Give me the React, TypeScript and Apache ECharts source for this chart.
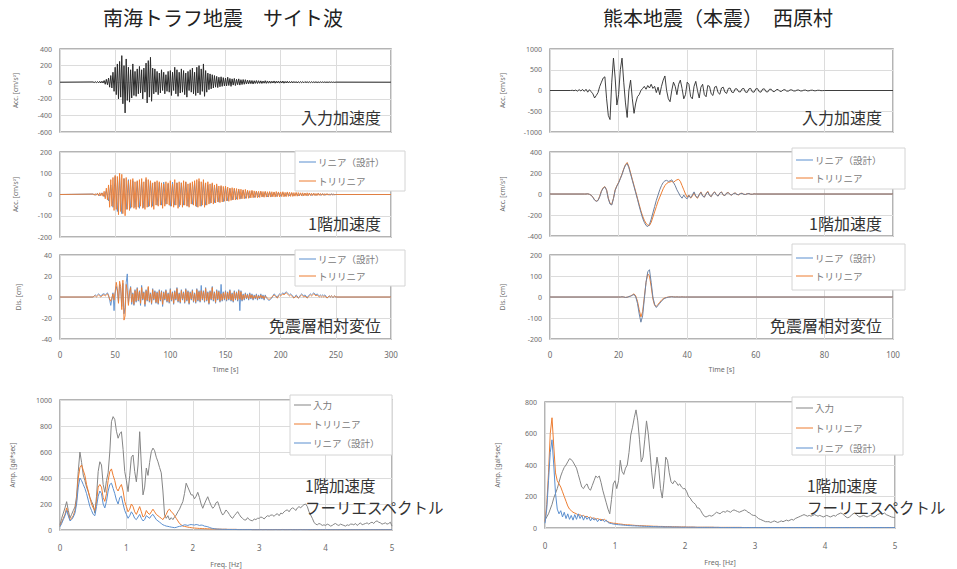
import React, { useEffect, useRef } from "react";
import * as echarts from "echarts";

// ---------------- Nankai Trough (site wave), time [s] ----------------
const NANKAI_T_END = 300;
const NANKAI_T0 = 30;
const NANKAI_DT = 1;
const NANKAI_INPUT = [
  3, -4, 6, -5, 8, -7, 10, -9, 12, -10,
  20, -25, 35, -30, 50, -60, 80, -70, 120, -110,
  180, -150, 220, -200, 250, -180, 320, -260, 200, -370,
  280, -220, 180, -240, 150, -190, 220, -160, 130, -170,
  160, -140, 190, -130, 150, -200, 170, -120, 230, -250,
  260, -180, 300, -230, 170, -140, 160, -120, 130, -150,
  110, -130, 150, -100, 120, -140, 90, -110, 130, -120,
  140, -160, 120, -100, 180, -140, 150, -170, 120, -130,
  160, -120, 140, -150, 110, -180, 130, -100, 150, -120,
  170, -140, 120, -160, 180, -130, 200, -150, 160, -110,
  220, -170, 140, -120, 110, -90, 100, -80, 90, -70,
  80, -60, 70, -65, 60, -55, 65, -50, 55, -45,
  50, -45, 60, -40, 45, -50, 40, -35, 45, -40,
  35, -30, 40, -35, 30, -28, 32, -25, 30, -22,
  25, -20, 22, -18, 20, -22, 18, -15, 20, -16,
  18, -14, 16, -15, 14, -12, 18, -14, 15, -12,
  14, -12, 12, -10, 15, -12, 12, -10, 14, -11,
  12, -10, 14, -12, 10, -9, 12, -10, 9, -8,
  10, -8, 9, -7, 8, -9, 7, -6, 8, -6,
  7, -6, 8, -5, 6, -5, 7, -5, 6, -4,
  5, -4, 6, -5, 4, -4, 5, -3, 4, -3,
  4, -3, 3, -3, 4, -2, 3, -2, 2, -2,
  1,
];
const NANKAI_F1_TRI = [
  2, -3, 4, -3, 5, -6, 8, -6, 7, -8,
  15, -20, 30, -25, 45, -60, 70, -55, 80, -75,
  90, -70, 85, -95, 100, -80, 95, -90, 75, -100,
  80, -70, 65, -75, 70, -60, 75, -65, 60, -70,
  65, -60, 70, -55, 75, -65, 60, -70, 80, -60,
  70, -55, 65, -60, 55, -70, 60, -50, 65, -55,
  60, -50, 55, -65, 50, -55, 60, -45, 55, -50,
  65, -55, 50, -60, 70, -50, 55, -65, 60, -50,
  55, -60, 65, -50, 60, -55, 50, -60, 55, -45,
  60, -50, 65, -55, 70, -60, 75, -55, 60, -50,
  70, -60, 55, -50, 60, -45, 50, -40, 55, -45,
  45, -40, 50, -35, 40, -38, 42, -35, 38, -32,
  40, -30, 35, -32, 30, -28, 32, -25, 30, -26,
  28, -24, 26, -22, 25, -20, 22, -20, 24, -18,
  20, -18, 18, -16, 20, -15, 17, -14, 16, -15,
  15, -14, 16, -12, 14, -13, 15, -12, 13, -12,
  14, -12, 13, -11, 12, -12, 14, -10, 12, -11,
  12, -10, 13, -11, 10, -10, 12, -9, 11, -9,
  10, -9, 9, -8, 10, -8, 9, -7, 8, -7,
  8, -7, 7, -6, 8, -6, 7, -5, 6, -5,
  6, -5, 5, -5, 6, -4, 5, -4, 4, -4,
  4, -3, 4, -3, 3, -3, 2, -2, 2, -1,
  0,
];
const NANKAI_F1_LIN_DT = 2;
const NANKAI_F1_LIN = [
  2, -3, 5, -6, 8, -10, 18, -30, 45, -60,
  85, -80, 80, -90, 75, -70, 70, -65, 65, -60,
  60, -65, 58, -62, 70, -58, 62, -55, 58, -50,
  55, -50, 58, -46, 50, -55, 58, -50, 55, -58,
  55, -50, 58, -55, 50, -46, 55, -58, 62, -55,
  58, -50, 46, -42, 50, -38, 42, -36, 38, -34,
  34, -30, 28, -26, 26, -22, 23, -20, 20, -18,
  17, -15, 16, -14, 14, -12, 13, -11, 12, -11,
  11, -10, 10, -9, 10, -8, 9, -8, 8, -7,
  7, -6, 6, -6, 6, -5, 5, -5, 5, -4,
  4, -4, 4, -3, 3, -3, 2, -2, 2, -1,
  0,
];
const NANKAI_DIS_TRI = [
  0, 1, 1, 0, 1, 2, 1, 0, 1, 2,
  2, 1, 2, 3, 1, -2, -4, -1, 3, -3,
  5, 14, 8, -6, 15, 10, -12, 16, -22, -18,
  12, 6, -8, 4, 9, -5, 3, -7, 6, -4,
  8, -3, 5, -6, 9, -2, 4, -7, 6, -3,
  10, -4, 3, -6, 7, -2, 5, -5, 4, -6,
  6, -3, 5, -7, 4, -2, 6, -4, 3, -5,
  7, -3, 4, -6, 5, -2, 8, -4, 3, -5,
  6, -2, 4, -5, 7, -3, 5, -6, 4, -2,
  6, -4, 3, -5, 7, -3, 5, -4, 6, -2,
  5, -4, 8, -3, 4, -6, 5, -2, 9, -3,
  4, -5, 6, -2, 5, -4, 3, -3, 4, -2,
  5, -3, 4, -2, 6, -3, 3, -4, 5, -2,
  4, -3, 6, -2, 5, -3, 2, -2, 3, -1,
  2, -2, 3, -1, 2, -2, 1, -1, 2, -2,
  1, -1, 2, -1, 1, -2, 1, 0, -1, -2,
  -2, -1, 0, 1, 2, 1, 0, -1, 1, 2,
  1, 2, 3, 2, 3, 4, 3, 2, 1, 2,
  1, 0, -1, 0, 1, 0, -1, 0, 1, 2,
  1, 0, 1, 0, -1, 0, 1, 2, 1, 2,
  3, 2, 1, 2, 1, 0, 1, 0, 1, 0,
  1, 0, -1, 0, 1, 0, 1, 0, 0, 1,
  0,
];
const NANKAI_DIS_LIN = [
  0, 1, 2, 1, 2, 3, 2, 1, 2, 3,
  3, 2, 3, 4, 2, -3, -8, -2, 4, -13,
  3, 10, 6, -5, 12, 8, -9, 13, -16, -10,
  14, 22, -6, 3, 10, -7, 4, -8, 7, -5,
  9, -4, 6, -8, 11, -3, 5, -9, 7, -4,
  9, -5, 4, -7, 8, -3, 6, -6, 5, -7,
  7, -4, 6, -9, 5, -3, 7, -5, 4, -6,
  8, -4, 5, -7, 6, -3, 9, -5, 4, -6,
  7, -3, 5, -6, 8, -4, 6, -7, 5, -3,
  7, -5, 4, -6, 8, -4, 6, -5, 11, -3,
  6, -5, 9, -4, 5, -7, 6, -3, 10, -4,
  5, -6, 7, -3, 6, -5, 12, -4, 5, -3,
  6, -4, 5, -3, 7, -4, 4, -5, 6, -3,
  5, -4, 7, -13, 6, -4, 3, -3, 4, -2,
  3, -3, 4, -2, 3, -3, 2, -2, 3, -3,
  2, -2, 3, -2, 2, -3, 2, -1, -2, -3,
  -3, -2, -1, 1, 3, 2, 1, -1, 2, 3,
  2, 3, 4, 3, 4, 5, 4, 3, 2, 3,
  2, 1, -1, 0, 2, 1, -1, 0, 2, 3,
  2, 1, 2, 1, -1, 1, 2, 3, 2, 3,
  4, 3, 2, 3, 2, 1, 2, 1, 2, 1,
  2, 1, -1, 0, 1, 0, 1, 0, 0, 1,
  0,
];

// ---------------- Kumamoto (main shock), Nishihara village ----------------
const KUMA_T_END = 100;
const KUMA_IN_T0 = 6;
const KUMA_DT = 0.5;
const KUMA_INPUT = [
  0, 5, -5, 10, -15, 20, -10, 25, -20, 30, -40, 20,
  -30, -80, -180, -120, -50, 100, 200, 300, 330, -200, -600, -700,
  200, 780, 300, -350, -100, 500, 780, 200, -300, -650, 0, 250,
  -200, -550, -300, -150, -100, 0, 50, 100, 30, 120, 60, 150,
  50, 100, -50, 80, -100, 100, 250, 350, 0, -200, -270, 0,
  200, 100, -100, 150, 250, 50, -200, -100, 200, 150, -150, -200,
  100, 220, 0, -180, 80, 150, -100, -150, 120, 100, -80, -120,
  80, 100, -50, -90, 60, 80, -40, -70, 50, 60, -40, -50,
  40, 40, -30, -35, 40, 50, -40, -45, 40, 50, -35, -40,
  40, 45, -30, -40, 35, 40, -30, -35, 30, 30, -25, -25,
  20, 25, -20, -20, 15, 20, -15, -15, 15, 15, -10, -12,
  10, 12, -10, -10, 8, 10, -8, -8, 6, 8, -6, -6,
  5, 5, -4, -3, 0,
];
const KUMA_F1_T0 = 10;
const KUMA_F1_TRI = [
  0, 0, 2, -3, -10, -30, -55, -68, -60, -20,
  30, 60, 70, 40, -40, -90, -100, -40, 40, 80,
  110, 150, 190, 240, 280, 300, 260, 200, 140, 80,
  20, -40, -100, -160, -210, -250, -280, -295, -300, -270,
  -220, -170, -120, -70, -30, 10, 50, 80, 100, 110,
  115, 120, 110, 125, 135, 140, 120, 80, 40, 0,
  -30, -10, -40, -20, 10, -25, -40, -10, 20, -15,
  -30, 5, 25, -10, -25, 5, 20, -5, -20, 10,
  20, -10, -15, 10, 15, -5, -10, 5, 10, -5,
  -8, 5, 8, -3, -5, 3, 5, -2, -3, 2,
  0,
];
const KUMA_F1_LIN = [
  0, 0, 2, -3, -12, -32, -58, -70, -62, -25,
  25, 55, 68, 35, -45, -95, -105, -45, 35, 75,
  105, 145, 185, 235, 275, 290, 250, 190, 130, 70,
  10, -50, -115, -175, -230, -270, -300, -310, -290, -240,
  -180, -120, -60, -10, 40, 80, 110, 125, 130, 120,
  125, 135, 110, 80, 40, 10, -20, -40, -10, -35,
  -45, -15, -35, -10, 20, -20, -35, -5, 15, -20,
  -30, 0, 20, -15, -25, 5, 18, -8, -20, 8,
  18, -8, -15, 8, 12, -5, -10, 5, 8, -4,
  -6, 4, 6, -3, -4, 2, 4, -2, -2, 1,
  0,
];
const KUMA_DIS_T0 = 20;
const KUMA_DIS_TRI = [
  0, 0, 1, 0, -2, -1, 2, 5, 10, 15,
  5, -20, -60, -95, -70, 0, 70, 110, 100, 50,
  -10, -40, -45, -35, -25, -15, -8, -4, -2, 0,
  1, 2, 1, 0, 1, 0, 0, 1, 0, 0,
  0,
];
const KUMA_DIS_LIN = [
  0, 0, 1, 0, -2, -1, 2, 4, 8, 12,
  0, -30, -80, -120, -90, -10, 70, 120, 130, 70,
  0, -35, -50, -40, -30, -20, -12, -6, -3, -1,
  0, 1, 0, 0, 0, 0, 0, 0, 0, 0,
  0,
];

// ---------------- Fourier spectra, 1st floor acceleration ----------------
const FREQ_DF = 0.025;
const NANKAI_FS_INPUT = [
  40, 90, 130, 170, 218, 150, 92, 120,
  150, 177, 260, 450, 600, 520, 423, 380,
  330, 295, 250, 220, 192, 130, 260, 450,
  525, 500, 350, 290, 380, 440, 600, 833,
  872, 850, 760, 706, 740, 756, 620, 450,
  380, 295, 420, 560, 577, 450, 371, 500,
  756, 500, 270, 330, 477, 420, 520, 602,
  630, 610, 560, 525, 480, 440, 300, 115,
  90, 110, 77, 95, 80, 100, 115, 140,
  160, 190, 218, 280, 360, 330, 300, 270,
  270, 240, 260, 290, 250, 200, 167, 200,
  230, 256, 220, 190, 167, 180, 210, 218,
  180, 140, 115, 130, 154, 140, 120, 100,
  90, 110, 125, 141, 120, 100, 90, 77,
  77, 95, 80, 74, 70, 85, 80, 90,
  90, 100, 95, 85, 100, 110, 105, 115,
  115, 105, 120, 125, 110, 130, 125, 140,
  150, 155, 140, 160, 170, 165, 150, 170,
  180, 170, 185, 195, 200, 180, 140, 115,
  90, 60, 45, 40, 50, 45, 35, 40,
  35, 45, 40, 30, 35, 45, 50, 40,
  35, 45, 40, 35, 30, 40, 35, 45,
  45, 40, 50, 35, 45, 55, 40, 45,
  50, 55, 45, 55, 60, 50, 65, 70,
  60, 55, 45, 50, 55, 45, 50, 60,
  30,
];
const NANKAI_FS_TRI = [
  30, 60, 90, 120, 170, 120, 80, 90,
  110, 150, 230, 400, 480, 500, 460, 420,
  350, 300, 250, 200, 170, 150, 220, 330,
  350, 330, 250, 220, 280, 380, 450, 470,
  420, 380, 320, 300, 330, 350, 300, 220,
  180, 140, 160, 200, 180, 140, 120, 150,
  180, 140, 100, 110, 150, 130, 120, 140,
  160, 140, 120, 110, 100, 90, 80, 100,
  120, 150, 160, 140, 130, 110, 90, 70,
  50, 40, 30, 28, 25, 22, 20, 18,
  16, 15, 14, 13, 12, 12, 11, 10,
  10, 9, 9, 8, 8, 8, 7, 7,
  7, 6, 6, 6, 6, 5, 5, 5,
  5, 5, 5, 4, 4, 4, 4, 4,
  4, 4, 4, 4, 3, 3, 3, 3,
  3, 4, 3, 3, 4, 3, 3, 3,
  3, 3, 4, 3, 3, 3, 4, 3,
  3, 3, 3, 4, 3, 3, 3, 3,
  3, 4, 3, 3, 3, 3, 2, 2,
  2, 2, 2, 2, 2, 2, 2, 2,
  2, 2, 2, 2, 2, 2, 2, 2,
  2, 2, 2, 2, 2, 2, 2, 2,
  2, 2, 2, 2, 2, 2, 2, 2,
  2, 2, 2, 2, 2, 2, 2, 2,
  2, 2, 2, 2, 2, 2, 2, 2,
  2,
];
const NANKAI_FS_LIN = [
  25, 50, 80, 110, 150, 110, 70, 80,
  100, 130, 200, 330, 400, 380, 350, 320,
  280, 230, 180, 150, 120, 110, 180, 260,
  300, 280, 200, 170, 220, 300, 350, 360,
  320, 280, 230, 200, 250, 260, 200, 150,
  120, 90, 110, 140, 120, 90, 80, 100,
  120, 90, 70, 80, 110, 100, 90, 110,
  120, 100, 80, 70, 60, 50, 40, 35,
  30, 28, 25, 22, 20, 18, 20, 25,
  28, 30, 35, 40, 38, 35, 40, 42,
  40, 38, 42, 40, 35, 38, 36, 30,
  28, 25, 20, 15, 12, 10, 8, 7,
  6, 6, 5, 5, 5, 4, 4, 4,
  4, 4, 4, 3, 3, 3, 3, 3,
  3, 3, 3, 3, 2, 2, 2, 2,
  2, 2, 2, 2, 2, 2, 2, 2,
  2, 2, 2, 2, 2, 2, 2, 2,
  2, 2, 2, 2, 2, 2, 2, 2,
  2, 2, 2, 2, 2, 2, 2, 2,
  2, 2, 2, 2, 2, 2, 2, 2,
  2, 2, 2, 2, 2, 2, 2, 2,
  2, 2, 2, 2, 2, 2, 2, 2,
  2, 2, 2, 2, 2, 2, 2, 2,
  2, 2, 2, 2, 2, 2, 2, 2,
  2, 2, 2, 2, 2, 2, 2, 2,
  2,
];
const KUMA_FS_INPUT = [
  50, 70, 90, 120, 150, 190, 220, 250,
  290, 330, 360, 385, 400, 420, 440, 435,
  420, 400, 380, 340, 300, 260, 250, 270,
  280, 250, 240, 270, 300, 330, 320, 330,
  290, 240, 200, 160, 120, 90, 180, 280,
  300, 250, 300, 430, 360, 340, 380, 400,
  480, 590, 640, 700, 750, 680, 560, 420,
  450, 560, 680, 600, 480, 350, 250, 350,
  450, 380, 250, 190, 300, 450, 430, 350,
  294, 280, 300, 290, 270, 280, 260, 250,
  250, 230, 200, 190, 170, 160, 150, 127,
  127, 110, 90, 75, 70, 75, 80, 75,
  80, 90, 100, 95, 90, 100, 105, 100,
  110, 105, 100, 110, 115, 110, 105, 100,
  105, 110, 115, 110, 100, 95, 85, 80,
  80, 70, 60, 55, 50, 45, 40, 40,
  40, 35, 40, 45, 40, 35, 40, 45,
  40, 45, 50, 45, 50, 55, 50, 60,
  65, 70, 75, 80, 85, 80, 75, 80,
  75, 80, 85, 80, 75, 80, 75, 70,
  75, 80, 75, 70, 75, 80, 75, 85,
  90, 95, 90, 80, 70, 65, 70, 80,
  90, 95, 85, 75, 70, 75, 80, 75,
  70, 75, 80, 75, 70, 75, 85, 90,
  95, 90, 95, 85, 80, 75, 70, 68,
  65,
];
const KUMA_FS_TRI = [
  40, 150, 350, 600, 700, 520, 350, 300,
  280, 260, 230, 200, 170, 140, 120, 110,
  100, 95, 90, 80, 85, 75, 80, 70,
  75, 65, 70, 60, 65, 55, 60, 55,
  55, 50, 55, 45, 40, 35, 33, 30,
  30, 28, 26, 25, 24, 22, 21, 20,
  20, 19, 18, 17, 16, 16, 15, 15,
  14, 14, 13, 13, 12, 12, 11, 11,
  11, 10, 10, 10, 9, 9, 9, 9,
  8, 8, 8, 8, 7, 7, 7, 7,
  7, 6, 6, 6, 6, 6, 5, 5,
  5, 5, 5, 5, 5, 5, 5, 5,
  5, 4, 4, 4, 4, 4, 4, 4,
  4, 4, 4, 4, 4, 4, 4, 4,
  4, 3, 3, 3, 3, 3, 3, 3,
  3, 3, 3, 3, 3, 3, 3, 3,
  3, 3, 3, 3, 3, 3, 3, 3,
  3, 3, 3, 3, 3, 3, 3, 3,
  3, 3, 3, 3, 3, 3, 3, 3,
  3, 3, 3, 3, 3, 3, 3, 3,
  3, 3, 3, 3, 3, 3, 3, 3,
  3, 3, 3, 3, 3, 3, 3, 3,
  3, 3, 3, 3, 3, 3, 3, 3,
  3, 3, 3, 3, 3, 3, 3, 3,
  3, 3, 3, 3, 3, 3, 3, 3,
  3,
];
const KUMA_FS_LIN = [
  30, 120, 300, 480, 560, 400, 220, 120,
  90, 110, 70, 100, 60, 90, 55, 80,
  50, 85, 55, 90, 60, 80, 50, 75,
  55, 70, 45, 65, 50, 60, 40, 55,
  45, 55, 40, 50, 35, 30, 28, 25,
  24, 22, 21, 20, 19, 18, 17, 16,
  15, 15, 14, 14, 13, 13, 12, 12,
  11, 11, 10, 10, 10, 9, 9, 9,
  8, 8, 8, 8, 7, 7, 7, 7,
  7, 6, 6, 6, 6, 6, 5, 5,
  5, 5, 5, 5, 5, 5, 5, 4,
  4, 4, 4, 4, 4, 4, 4, 4,
  4, 4, 4, 4, 3, 3, 3, 3,
  3, 3, 3, 3, 3, 3, 3, 3,
  3, 3, 3, 3, 3, 3, 3, 3,
  3, 3, 3, 3, 3, 3, 3, 3,
  3, 3, 3, 3, 3, 3, 3, 3,
  3, 3, 3, 3, 3, 3, 3, 3,
  3, 3, 3, 3, 3, 3, 3, 3,
  3, 3, 3, 3, 3, 3, 3, 3,
  3, 3, 3, 3, 3, 3, 3, 3,
  3, 3, 3, 3, 3, 3, 3, 3,
  3, 3, 3, 3, 3, 3, 3, 3,
  3, 3, 3, 3, 3, 3, 3, 3,
  3, 3, 3, 3, 3, 3, 3, 3,
  3,
];

// ---------------- texts ----------------
const TITLE_LEFT = "南海トラフ地震　サイト波";
const TITLE_RIGHT = "熊本地震（本震）　西原村";
const LABEL_INPUT_ACC = "入力加速度";
const LABEL_F1_ACC = "1階加速度";
const LABEL_DIS = "免震層相対変位";
const LABEL_FS2 = "フーリエスペクトル";
const NAME_LIN = "リニア（設計）";
const NAME_TRI = "トリリニア";
const NAME_IN = "入力";

const COLOR_IN = "#2b2b2b";
const COLOR_IN_FS = "#858585";
const COLOR_TRI = "#ED7D31";
const COLOR_LIN = "#5B8FCF";

const FONT_JP = '"Noto Sans CJK JP", "Noto Sans", sans-serif';
const FONT_NUM = '"Noto Sans", "DejaVu Sans", sans-serif';

function toPoints(t0: number, dt: number, values: number[], padStart?: number, padEnd?: number) {
  const pts: number[][] = [];
  if (padStart !== undefined) pts.push([padStart, 0]);
  values.forEach((v, i) => pts.push([+(t0 + i * dt).toFixed(4), v]));
  if (padEnd !== undefined) pts.push([padEnd, 0]);
  return pts;
}

const GRIDS = [
  { left: 60, top: 49, width: 331, height: 83 },
  { left: 60, top: 152, width: 331, height: 85 },
  { left: 60, top: 255, width: 331, height: 84 },
  { left: 60, top: 400, width: 332, height: 130 },
  { left: 550, top: 49, width: 343, height: 83 },
  { left: 550, top: 152, width: 343, height: 84 },
  { left: 550, top: 255, width: 343, height: 84 },
  { left: 545, top: 402, width: 350, height: 126 },
];

const plainNum = (v: number) => String(v);

function xAxis(gi: number, min: number, max: number, interval: number, showLabel: boolean, name: string, margin = 11, gap = 27) {
  return {
    type: "value",
    gridIndex: gi,
    min,
    max,
    interval,
    axisLine: { show: false },
    axisTick: { show: false },
    axisLabel: { show: showLabel, fontSize: 8, color: "#6b6b6b", margin, fontFamily: FONT_NUM, formatter: plainNum },
    splitLine: { show: true, lineStyle: { color: "#dcdcdc", width: 1 } },
    name: showLabel ? name : "",
    nameLocation: "middle",
    nameGap: gap,
    nameTextStyle: { fontSize: 7, color: "#6b6b6b", fontFamily: FONT_NUM },
  };
}

function yAxis(gi: number, min: number, max: number, interval: number, name: string, gap: number) {
  return {
    type: "value",
    gridIndex: gi,
    min,
    max,
    interval,
    axisLine: { show: false },
    axisTick: { show: false },
    axisLabel: { fontSize: 7, color: "#6b6b6b", margin: 8, fontFamily: FONT_NUM, formatter: plainNum },
    splitLine: { show: true, lineStyle: { color: "#dcdcdc", width: 1 } },
    name,
    nameLocation: "middle",
    nameRotate: 90,
    nameGap: gap,
    nameTextStyle: { fontSize: 6.5, color: "#6b6b6b", fontFamily: FONT_NUM },
  };
}

function line(name: string, gi: number, data: number[][], color: string, width = 0.9) {
  return {
    type: "line",
    name,
    xAxisIndex: gi,
    yAxisIndex: gi,
    data,
    showSymbol: false,
    symbol: "none",
    lineStyle: { color, width },
    itemStyle: { color },
    clip: true,
  };
}

function text(str: string, x: number, y: number, size: number, align: string, color = "#333333") {
  return {
    type: "text",
    x,
    y,
    z: 100,
    style: {
      text: str,
      fontSize: size,
      fontFamily: FONT_JP,
      fill: color,
      align,
      verticalAlign: "middle",
      textAlign: align,
      textVerticalAlign: "middle",
    },
  };
}

function legendBox(x: number, y: number, w: number, h: number, items: { label: string; color: string; y: number }[]) {
  const children: any[] = [
    {
      type: "rect",
      z: 100,
      shape: { x, y, width: w, height: h },
      style: { fill: "#ffffff", stroke: "#d4d4d4", lineWidth: 1 },
    },
  ];
  items.forEach((it) => {
    children.push({
      type: "line",
      z: 101,
      shape: { x1: x + 4, y1: it.y, x2: x + 21, y2: it.y },
      style: { stroke: it.color, lineWidth: 1 },
    });
    const t: any = text(it.label, x + 23, it.y, 9.5, "left", "#7a7a7a");
    t.z = 101;
    children.push(t);
  });
  return { type: "group", children };
}

export default function App() {
  const ref = useRef<HTMLDivElement>(null);
  useEffect(() => {
    if (!ref.current) return;
    const chart = echarts.init(ref.current, undefined, { renderer: "svg" });
    const option: any = {
      animation: false,
      backgroundColor: "#ffffff",
      grid: GRIDS.map((g) => ({
        ...g,
        show: true,
        borderColor: "#9c9c9c",
        borderWidth: 1.5,
        backgroundColor: "transparent",
        containLabel: false,
      })),
      xAxis: [
        xAxis(0, 0, NANKAI_T_END, 50, false, ""),
        xAxis(1, 0, NANKAI_T_END, 50, false, ""),
        xAxis(2, 0, NANKAI_T_END, 50, true, "Time [s]"),
        xAxis(3, 0, 5, 1, true, "Freq. [Hz]", 13, 31),
        xAxis(4, 0, KUMA_T_END, 20, false, ""),
        xAxis(5, 0, KUMA_T_END, 20, false, ""),
        xAxis(6, 0, KUMA_T_END, 20, true, "Time [s]"),
        xAxis(7, 0, 5, 1, true, "Freq. [Hz]", 13, 31),
      ],
      yAxis: [
        yAxis(0, -600, 400, 200, "Acc. [cm/s²]", 41),
        yAxis(1, -200, 200, 100, "Acc. [cm/s²]", 41),
        yAxis(2, -40, 40, 20, "Dis. [cm]", 38),
        yAxis(3, 0, 1000, 200, "Amp. [gal*sec]", 44),
        yAxis(4, -1000, 1000, 500, "Acc. [cm/s²]", 44),
        yAxis(5, -400, 400, 200, "Acc. [cm/s²]", 44),
        yAxis(6, -200, 200, 100, "Dis. [cm]", 44),
        yAxis(7, 0, 800, 200, "Amp. [gal*sec]", 44),
      ],
      series: [
        line(NAME_IN, 0, toPoints(NANKAI_T0, NANKAI_DT, NANKAI_INPUT, 0, NANKAI_T_END), COLOR_IN, 1),
        line(NAME_LIN, 1, toPoints(NANKAI_T0, NANKAI_F1_LIN_DT, NANKAI_F1_LIN, 0, NANKAI_T_END), COLOR_LIN),
        line(NAME_TRI, 1, toPoints(NANKAI_T0, NANKAI_DT, NANKAI_F1_TRI, 0, NANKAI_T_END), COLOR_TRI),
        line(NAME_LIN, 2, toPoints(NANKAI_T0, NANKAI_DT, NANKAI_DIS_LIN, 0, NANKAI_T_END), COLOR_LIN),
        line(NAME_TRI, 2, toPoints(NANKAI_T0, NANKAI_DT, NANKAI_DIS_TRI, 0, NANKAI_T_END), COLOR_TRI),
        line(NAME_IN, 3, toPoints(0, FREQ_DF, NANKAI_FS_INPUT), COLOR_IN_FS, 1),
        line(NAME_TRI, 3, toPoints(0, FREQ_DF, NANKAI_FS_TRI), COLOR_TRI, 1),
        line(NAME_LIN, 3, toPoints(0, FREQ_DF, NANKAI_FS_LIN), COLOR_LIN, 1),
        line(NAME_IN, 4, toPoints(KUMA_IN_T0, KUMA_DT, KUMA_INPUT, 0, KUMA_T_END), COLOR_IN),
        line(NAME_TRI, 5, toPoints(KUMA_F1_T0, KUMA_DT, KUMA_F1_TRI, 0, KUMA_T_END), COLOR_TRI, 1),
        line(NAME_LIN, 5, toPoints(KUMA_F1_T0, KUMA_DT, KUMA_F1_LIN, 0, KUMA_T_END), "#6d7f9c", 1),
        line(NAME_TRI, 6, toPoints(KUMA_DIS_T0, KUMA_DT, KUMA_DIS_TRI, 0, KUMA_T_END), COLOR_TRI, 1),
        line(NAME_LIN, 6, toPoints(KUMA_DIS_T0, KUMA_DT, KUMA_DIS_LIN, 0, KUMA_T_END), "#6d85a8", 1),
        line(NAME_IN, 7, toPoints(0, FREQ_DF, KUMA_FS_INPUT), COLOR_IN_FS, 1),
        line(NAME_TRI, 7, toPoints(0, FREQ_DF, KUMA_FS_TRI), COLOR_TRI, 1),
        line(NAME_LIN, 7, toPoints(0, FREQ_DF, KUMA_FS_LIN), COLOR_LIN, 1),
      ],
      graphic: [
        text(TITLE_LEFT, 223, 17, 20, "center", "#222222"),
        text(TITLE_RIGHT, 718, 17, 20, "center", "#222222"),
        text(LABEL_INPUT_ACC, 381, 117, 16, "right"),
        text(LABEL_F1_ACC, 381, 223, 16, "right"),
        text(LABEL_DIS, 381, 325, 16, "right"),
        text(LABEL_F1_ACC, 305, 485, 15.5, "left"),
        text(LABEL_FS2, 305, 507, 15.5, "left"),
        text(LABEL_INPUT_ACC, 882, 117, 16, "right"),
        text(LABEL_F1_ACC, 882, 223, 16, "right"),
        text(LABEL_DIS, 882, 325, 16, "right"),
        text(LABEL_F1_ACC, 807, 485, 15.5, "left"),
        text(LABEL_FS2, 807, 507, 15.5, "left"),
        legendBox(295, 151, 110, 40, [
          { label: NAME_LIN, color: COLOR_LIN, y: 162 },
          { label: NAME_TRI, color: COLOR_TRI, y: 181 },
        ]),
        legendBox(295, 250, 110, 36, [
          { label: NAME_LIN, color: COLOR_LIN, y: 259 },
          { label: NAME_TRI, color: COLOR_TRI, y: 276 },
        ]),
        legendBox(290, 395, 102, 60, [
          { label: NAME_IN, color: COLOR_IN_FS, y: 405 },
          { label: NAME_TRI, color: COLOR_TRI, y: 424 },
          { label: NAME_LIN, color: COLOR_LIN, y: 443 },
        ]),
        legendBox(792, 148, 113, 41, [
          { label: NAME_LIN, color: COLOR_LIN, y: 160 },
          { label: NAME_TRI, color: COLOR_TRI, y: 178 },
        ]),
        legendBox(792, 244, 113, 46, [
          { label: NAME_LIN, color: COLOR_LIN, y: 258 },
          { label: NAME_TRI, color: COLOR_TRI, y: 276 },
        ]),
        legendBox(792, 397, 111, 58, [
          { label: NAME_IN, color: COLOR_IN_FS, y: 408 },
          { label: NAME_TRI, color: COLOR_TRI, y: 428 },
          { label: NAME_LIN, color: COLOR_LIN, y: 448 },
        ]),
      ],
    };
    chart.setOption(option);
    return () => chart.dispose();
  }, []);
  return (
    <div
      ref={ref}
      style={{ position: "fixed", left: 0, top: 0, width: 957, height: 569, background: "#fff" }}
    />
  );
}
